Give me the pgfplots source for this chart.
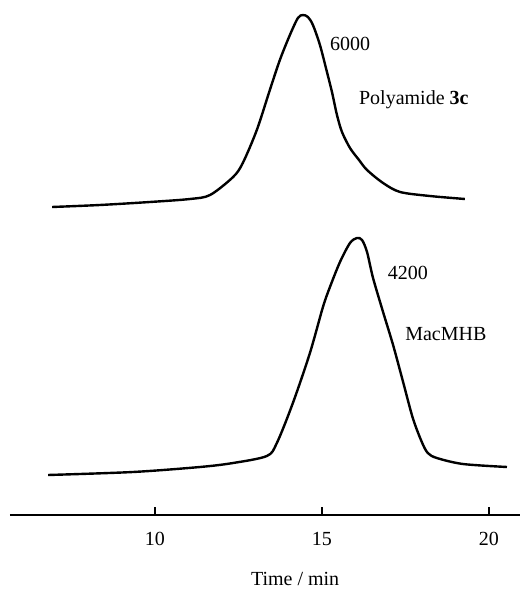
\documentclass[border=0pt]{standalone}
\usepackage{pgfplots}
\pgfplotsset{compat=1.18}
\usepackage{fontspec}
\setmainfont{Liberation Serif}
\begin{document}
\begin{tikzpicture}
\begin{axis}[
  scale only axis,
  width=255pt, height=257.5pt,
  xmin=5.66, xmax=20.93, ymin=0, ymax=515,
  axis x line=bottom, axis y line=none,
  axis line style={line width=1pt,-},
  xtick={10,15,20},
  tick align=inside, major tick length=4pt,
  tick style={line width=1pt,black},
  /pgf/number format/assume math mode=true,
  xticklabel style={yshift=-5pt},
  xlabel={Time / min},
  xlabel style={at={(axis description cs:0.559,0)}, anchor=center, yshift=-32pt},
  clip=false,
]
\addplot[black, line width=1.2pt, smooth, tension=0.5] coordinates {
(6.92,308) (8.35,310) (9.85,313) (11.05,316) (11.65,320) (12.34,338) (12.63,352)
(13.05,385) (13.44,425) (13.74,455) (14.04,480) (14.28,497) (14.43,500) (14.58,498)
(14.73,490) (14.94,470) (15.15,443) (15.30,423) (15.45,400) (15.60,383) (15.84,367)
(16.11,355) (16.35,345) (16.83,332) (17.34,323) (18.23,319) (19.28,316)
};
\addplot[black, line width=1.2pt, smooth, tension=0.5] coordinates {
(6.80,40) (9.34,43) (11.35,48) (12.34,52) (13.35,59) (13.65,72) (14.13,112)
(14.64,162) (15.03,208) (15.24,228) (15.54,253) (15.84,272) (16.05,277) (16.20,275)
(16.35,263) (16.53,237) (16.83,203) (17.13,170) (17.43,133) (17.72,97) (17.99,73)
(18.17,62) (18.44,57) (19.22,51) (20.54,48)
};
\node at (axis cs:15.84,471) {6000};
\node at (axis cs:17.75,415) {Polyamide \textbf{3c}};
\node at (axis cs:17.57,242) {4200};
\node at (axis cs:18.71,181) {MacMHB};
\coordinate (bl) at (rel axis cs:0,0);
\end{axis}
\pgfresetboundingbox
\path ([shift={(-5pt,-37.5pt)}]bl) rectangle ([shift={(255pt,257.5pt)}]bl);
\end{tikzpicture}
\end{document}
